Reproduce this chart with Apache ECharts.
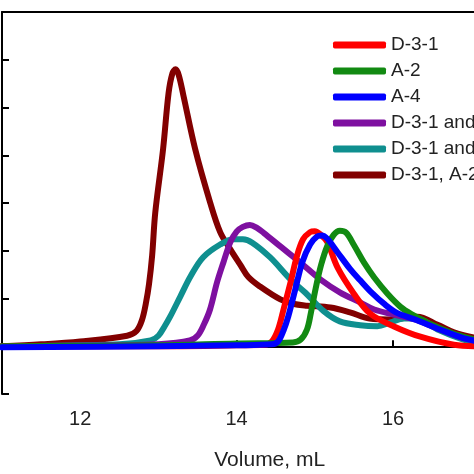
<!DOCTYPE html>
<html>
<head>
<meta charset="utf-8">
<script src="https://cdn.jsdelivr.net/npm/echarts@6/dist/echarts.min.js"></script>
<style>html,body{margin:0;padding:0;background:#fff;}#c{width:474px;height:474px;}</style>
</head>
<body>
<div id="c"></div>
<script>
// Series names (legend order)
var seriesNames = ['D-3-1', 'A-2', 'A-4', 'D-3-1 and A-2', 'D-3-1 and A-4', 'D-3-1, A-2 and A-4'];
var xTicks = [12, 14, 16];

// [volume mL, signal]
var d31 = [[11,0],[12,0],[13,0],[14,0.02],[14.35,0.03],[14.45,0.10],[14.53,0.35],[14.60,0.77],[14.69,1.34],[14.77,1.88],[14.85,2.24],[14.94,2.39],[15.00,2.41],[15.08,2.33],[15.16,2.18],[15.29,1.65],[15.50,1.10],[15.71,0.68],[16.02,0.41],[16.35,0.20],[16.78,0.03],[17.1,0.0]];
var a2 = [[11,0],[13,0.02],[14.0,0.06],[14.72,0.08],[14.82,0.14],[14.90,0.35],[14.95,0.70],[15.01,1.20],[15.08,1.70],[15.16,2.10],[15.24,2.33],[15.32,2.42],[15.40,2.38],[15.50,2.12],[15.63,1.75],[15.76,1.44],[15.93,1.10],[16.10,0.82],[16.23,0.68],[16.5,0.45],[16.8,0.25],[17.1,0.12]];
var a4 = [[11,-0.02],[13,0.0],[14.0,0.02],[14.45,0.04],[14.53,0.10],[14.60,0.33],[14.66,0.62],[14.75,1.19],[14.84,1.76],[14.94,2.13],[15.03,2.30],[15.09,2.32],[15.16,2.25],[15.29,1.97],[15.45,1.62],[15.58,1.38],[15.71,1.15],[15.90,0.87],[16.05,0.70],[16.3,0.55],[16.6,0.35],[16.9,0.17],[17.1,0.10]];
var d31a2 = [[11,0],[12.5,0.02],[13.0,0.04],[13.40,0.12],[13.50,0.22],[13.58,0.45],[13.66,0.77],[13.75,1.34],[13.83,1.75],[13.92,2.18],[14.00,2.40],[14.08,2.50],[14.17,2.54],[14.26,2.48],[14.35,2.37],[14.56,2.09],[14.81,1.76],[15.07,1.40],[15.32,1.13],[15.58,0.92],[15.76,0.77],[16.02,0.66],[16.3,0.55],[16.6,0.35],[16.9,0.17],[17.1,0.10]];
var d31a4 = [[11,0],[12.5,0.04],[12.90,0.12],[13.00,0.22],[13.08,0.42],[13.15,0.62],[13.28,1.04],[13.41,1.46],[13.57,1.86],[13.79,2.13],[13.96,2.24],[14.08,2.24],[14.20,2.17],[14.43,1.86],[14.69,1.40],[14.88,1.12],[15.11,0.74],[15.32,0.52],[15.58,0.44],[15.80,0.42],[15.97,0.50],[16.14,0.58],[16.31,0.58],[16.57,0.35],[16.9,0.14],[17.1,0.08]];
var d31a2a4 = [[11,0],[11.5,0.04],[12.0,0.10],[12.6,0.22],[12.72,0.32],[12.79,0.55],[12.84,0.90],[12.88,1.30],[12.92,1.90],[12.96,2.80],[13.06,4.13],[13.13,5.30],[13.18,5.72],[13.22,5.80],[13.26,5.68],[13.32,5.25],[13.47,4.13],[13.66,3.02],[13.79,2.39],[13.92,2.03],[14.05,1.70],[14.15,1.45],[14.30,1.25],[14.56,0.98],[14.72,0.89],[14.90,0.85],[15.20,0.81],[15.45,0.71],[15.70,0.58],[15.96,0.56],[16.31,0.62],[16.57,0.45],[16.78,0.29],[17.1,0.16]];

var colors = {
  'D-3-1': '#ff0000',
  'A-2': '#128a12',
  'A-4': '#0000ff',
  'D-3-1 and A-2': '#7e10a0',
  'D-3-1 and A-4': '#0f8f8f',
  'D-3-1, A-2 and A-4': '#820000'
};
var dataByName = {
  'D-3-1': d31, 'A-2': a2, 'A-4': a4,
  'D-3-1 and A-2': d31a2, 'D-3-1 and A-4': d31a4, 'D-3-1, A-2 and A-4': d31a2a4
};
// draw order (later on top)
var drawOrder = ['D-3-1, A-2 and A-4', 'D-3-1 and A-4', 'D-3-1 and A-2', 'D-3-1', 'A-2', 'A-4'];

var FONT = 'Liberation Sans, Arial, sans-serif';
var chart = echarts.init(document.getElementById('c'), null, {renderer: 'canvas'});
var axisLine = {show: true, lineStyle: {color: '#000', width: 2}};
chart.setOption({
  animation: false,
  backgroundColor: '#fff',
  grid: {left: 2, right: -75.4, top: 12, bottom: 80, containLabel: false, outerBoundsMode: 'none'},
  legend: {
    data: seriesNames,
    orient: 'vertical',
    left: 328, top: 27,
    icon: 'roundRect',
    itemWidth: 53, itemHeight: 7, itemGap: 0,
    textStyle: {fontSize: 19, lineHeight: 26, fontFamily: FONT, color: '#222'}
  },
  xAxis: [{
    type: 'value', min: 11, max: 18,
    axisLine: axisLine,
    axisTick: {show: true, inside: true, length: 6, lineStyle: {color: '#000', width: 2}, customValues: xTicks},
    axisLabel: {show: true, fontSize: 20, fontFamily: FONT, color: '#222', margin: 15, customValues: xTicks},
    splitLine: {show: false},
    name: 'Volume, mL', nameLocation: 'middle', nameGap: 56,
    nameTextStyle: {fontSize: 21, fontFamily: FONT, color: '#222', padding: [0, 12, 0, 0]}
  }, {
    type: 'value', min: 11, max: 18, position: 'top',
    axisLine: axisLine, axisTick: {show: false}, axisLabel: {show: false}, splitLine: {show: false}
  }],
  yAxis: {
    type: 'value', min: -1, max: 7, interval: 1,
    axisLine: axisLine,
    axisTick: {show: true, inside: true, length: 7, lineStyle: {color: '#000', width: 2}},
    axisLabel: {show: false},
    splitLine: {show: false}
  },
  series: drawOrder.map(function (n) {
    return {
      name: n, type: 'line', xAxisIndex: 0,
      data: dataByName[n],
      smooth: 0.35,
      showSymbol: false, symbol: 'none',
      color: colors[n],
      itemStyle: {color: colors[n]},
      lineStyle: {width: 6, color: colors[n], cap: 'round', join: 'round'}
    };
  })
});
</script>
</body>
</html>
